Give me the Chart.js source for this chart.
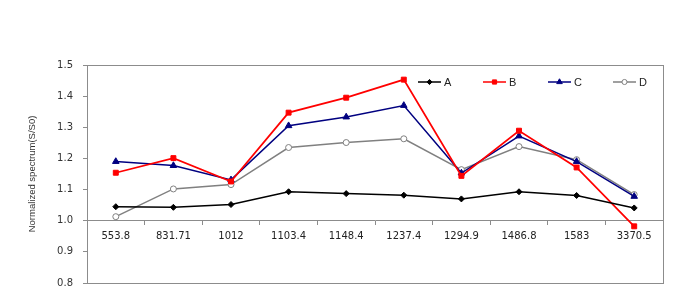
<!DOCTYPE html>
<html>
<head>
<meta charset="utf-8">
<script src="https://cdn.jsdelivr.net/npm/chart.js@4"></script>
<style>
  html, body { margin: 0; padding: 0; background: #fff; }
  #wrap { width: 687px; height: 294px; }
</style>
</head>
<body>
<div id="wrap"><canvas id="spectrumChart" width="687" height="294"></canvas></div>
<script>
const categories = ['553.8', '831.71', '1012', '1103.4', '1148.4', '1237.4', '1294.9', '1486.8', '1583', '3370.5'];
const seriesA = [1.045, 1.043, 1.052, 1.093, 1.087, 1.082, 1.070, 1.093, 1.081, 1.041];
const seriesB = [1.154, 1.201, 1.126, 1.347, 1.395, 1.453, 1.144, 1.289, 1.171, 0.982];
const seriesC = [1.190, 1.177, 1.131, 1.305, 1.333, 1.370, 1.153, 1.272, 1.190, 1.078];
const seriesD = [1.013, 1.102, 1.116, 1.235, 1.251, 1.263, 1.164, 1.238, 1.196, 1.084];
const yTicks = [0.8, 0.9, 1.0, 1.1, 1.2, 1.3, 1.4, 1.5];

const frameColor = '#8c8c8c';

// frame around the plot area + legend with line/marker samples
const frameAndLegend = {
    id: 'frameAndLegend',
    afterDraw(chart) {
        const ctx = chart.ctx;
        const a = chart.chartArea;
        ctx.save();
        ctx.strokeStyle = frameColor;
        ctx.lineWidth = 1;
        ctx.strokeRect(Math.round(a.left) + 0.5, Math.round(a.top) + 0.5,
            Math.round(a.right - a.left), Math.round(a.bottom - a.top));

        const y = 82;
        const starts = [418, 483, 548, 613];
        chart.data.datasets.forEach((ds, i) => {
            const x0 = starts[i];
            ctx.strokeStyle = ds.borderColor;
            ctx.lineWidth = 1.5;
            ctx.beginPath();
            ctx.moveTo(x0, y);
            ctx.lineTo(x0 + 23, y);
            ctx.stroke();
            ctx.fillStyle = ds.pointBackgroundColor;
            ctx.strokeStyle = ds.borderColor;
            ctx.lineWidth = 1;
            Chart.helpers.drawPoint(ctx, {
                pointStyle: ds.pointStyle,
                radius: ds.pointRadius * 0.85,
                rotation: 0,
                borderWidth: 1
            }, x0 + 11.5, y);
            ctx.fillStyle = '#222';
            ctx.font = '11px "Liberation Sans", Arial, sans-serif';
            ctx.textBaseline = 'middle';
            ctx.textAlign = 'left';
            ctx.fillText(ds.label, x0 + 26, y + 0.5);
        });
        ctx.restore();
    }
};

function makeSet(label, data, color, style, radius, fill, width) {
    return {
        label: label,
        data: data,
        borderColor: color,
        backgroundColor: color,
        pointBackgroundColor: fill,
        pointBorderColor: color,
        pointBorderWidth: 1,
        pointStyle: style,
        pointRadius: radius,
        borderWidth: width,
        tension: 0
    };
}

const ctx = document.getElementById('spectrumChart').getContext('2d');
new Chart(ctx, {
    type: 'line',
    data: {
        labels: categories,
        datasets: [
            makeSet('A', seriesA, '#000000', 'rectRot', 3, '#000000', 1.5),
            makeSet('B', seriesB, '#ff0000', 'rect', 3.5, '#ff0000', 1.75),
            makeSet('C', seriesC, '#000080', 'triangle', 3.8, '#000080', 1.5),
            makeSet('D', seriesD, '#808080', 'circle', 3, '#ffffff', 1.5)
        ]
    },
    options: {
        responsive: false,
        animation: false,
        layout: { padding: { top: 65, right: 24, bottom: 11, left: 0 } },
        plugins: {
            legend: { display: false },
            tooltip: { enabled: false }
        },
        scales: {
            x: {
                type: 'category',
                position: { y: 1.0 },
                offset: true,
                afterFit(scale) {
                    scale.height = 0;
                    scale.paddingTop = 0;
                    scale.paddingBottom = 0;
                },
                grid: {
                    offset: true,
                    drawOnChartArea: false,
                    drawTicks: true,
                    tickLength: 4,
                    color: frameColor
                },
                border: { display: true, color: frameColor, width: 1 },
                ticks: {
                    autoSkip: false,
                    maxRotation: 0,
                    minRotation: 0,
                    padding: 6,
                    color: '#222',
                    font: { family: 'DejaVu Sans', size: 10 }
                }
            },
            y: {
                min: 0.8,
                max: 1.5,
                afterBuildTicks(scale) {
                    scale.ticks = yTicks.map(v => ({ value: v }));
                },
                afterFit(scale) {
                    scale.width = 87;
                    scale.paddingTop = 0;
                    scale.paddingBottom = 0;
                },
                grid: {
                    drawOnChartArea: false,
                    drawTicks: true,
                    tickLength: 4,
                    color: frameColor
                },
                border: { display: true, color: frameColor, width: 1 },
                ticks: {
                    padding: 10,
                    color: '#333',
                    font: { family: 'DejaVu Sans', size: 10 },
                    callback: v => Number(v).toFixed(1)
                },
                title: {
                    display: true,
                    text: 'Normalized spectrum(S/S0)',
                    color: '#333',
                    padding: { top: 27, bottom: 0 },
                    font: { family: 'Liberation Sans', size: 9.5 }
                }
            }
        }
    },
    plugins: [frameAndLegend]
});
</script>
</body>
</html>
